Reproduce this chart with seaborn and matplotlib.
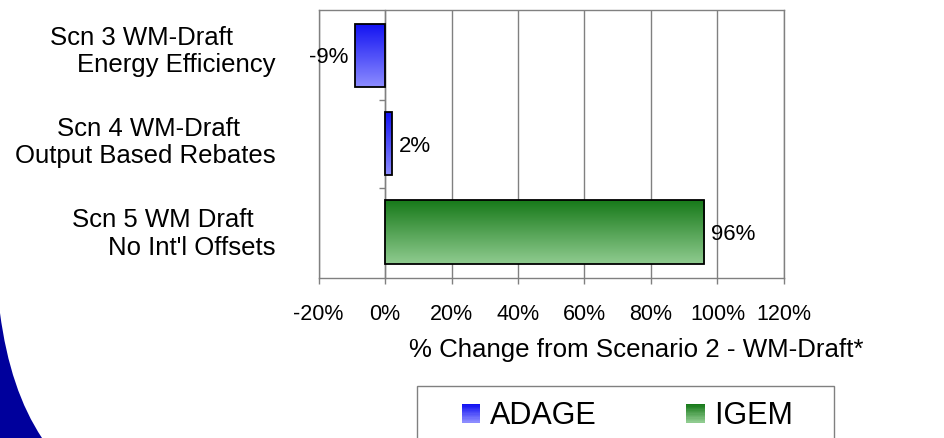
import numpy as np
import pandas as pd
import matplotlib
matplotlib.use('Agg')
import matplotlib.pyplot as plt
import matplotlib.transforms as mtransforms
import seaborn as sns
from matplotlib.patches import Patch, Rectangle, PathPatch
from matplotlib.path import Path
from matplotlib.legend_handler import HandlerBase
from matplotlib.colors import to_rgba

# data
scenarios = ['Scn 3 WM-Draft      \nEnergy Efficiency',
             'Scn 4 WM-Draft     \nOutput Based Rebates',
             'Scn 5 WM Draft   \nNo Int\'l Offsets']
pct_change = [-9, 2, 96]
model = ['ADAGE', 'ADAGE', 'IGEM']
model_order = ['ADAGE', 'IGEM']
x_ticks = [-20, 0, 20, 40, 60, 80, 100, 120]

# gradient colours (top, bottom) per model
grad_colors = {'ADAGE': ('#1212f2', '#8c8cff'),
               'IGEM': ('#187a1a', '#8fcb8f')}
grid_col = '#808080'

df = pd.DataFrame({'scenario': scenarios, 'change': pct_change, 'model': model})

sns.set_style('white')
plt.rcParams['font.family'] = ['Liberation Sans', 'DejaVu Sans']
plt.rcParams['text.color'] = 'black'
plt.rcParams['axes.labelcolor'] = 'black'
plt.rcParams['xtick.labelcolor'] = 'black'
plt.rcParams['ytick.labelcolor'] = 'black'

fig = plt.figure(figsize=(9.44, 4.38), dpi=100)
ax = fig.add_axes([0.3374, 0.3653, 0.4931, 0.613])

sns.barplot(data=df, x='change', y='scenario', hue='model', hue_order=model_order,
            palette={k: v[1] for k, v in grad_colors.items()}, dodge=False,
            width=0.715, saturation=1, edgecolor='black', linewidth=1.3,
            orient='h', legend=False, ax=ax)


def vertical_gradient(top, bottom, n=64):
    t = np.linspace(0, 1, n)[:, None]
    c0 = np.array(to_rgba(top))
    c1 = np.array(to_rgba(bottom))
    return (c0 * (1 - t) + c1 * t)[:, None, :]


# fill each bar with a top-to-bottom gradient, clipped to the bar
for cont, name in zip(ax.containers, model_order):
    top, bottom = grad_colors[name]
    for bar in cont:
        x0, y0 = bar.get_xy()
        w, h = bar.get_width(), bar.get_height()
        img = ax.imshow(vertical_gradient(top, bottom), extent=(x0, x0 + w, y0 + h, y0),
                        origin='upper', aspect='auto', interpolation='bilinear', zorder=1.5)
        img.set_clip_path(bar)
        bar.set_facecolor('none')
        bar.set_zorder(2)
    for t in ax.bar_label(cont, fmt='{:.0f}%', padding=5, fontsize=16):
        t.set_verticalalignment('center_baseline')

ax.set_xlim(x_ticks[0], x_ticks[-1])
ax.set_ylim(len(scenarios) - 0.48, -0.52)

ax.set_xticks(x_ticks, labels=[f'{t}%' for t in x_ticks])
ax.tick_params(axis='x', bottom=True, length=4.6, width=1, color=grid_col,
               pad=14, labelsize=15.5, direction='out')
ax.tick_params(axis='y', length=0, pad=31, labelsize=18.5)
# category labels sit a little above their bars in the original
for lbl, dy in zip(ax.get_yticklabels(), [6, 4, 1.5]):
    lbl.set_multialignment('right')
    lbl.set_linespacing(1.2)
    lbl.set_transform(lbl.get_transform() +
                      mtransforms.ScaledTranslation(0, dy / 72, fig.dpi_scale_trans))

ax.grid(axis='x', color=grid_col, lw=1)
ax.grid(axis='y', visible=False)
ax.set_axisbelow(True)
for sp in ax.spines.values():
    sp.set_visible(True)
    sp.set_color(grid_col)
    sp.set_linewidth(1)

ax.set_ylabel('')
ax.set_xlabel('% Change from Scenario 2 - WM-Draft*', fontsize=18.6)
ax.xaxis.set_label_coords(0.682, -0.222)

# category axis crosses at 0%: ticks between categories
xl = ax.get_xlim()
sec = ax.secondary_yaxis((0 - xl[0]) / (xl[1] - xl[0]))
sec.set_yticks([0.5, 1.5])
sec.set_yticklabels([])
sec.tick_params(length=4.6, width=1, color=grid_col, direction='out')
for sp in sec.spines.values():
    sp.set_color(grid_col)
    sp.set_linewidth(1)

# blue swoosh decoration bottom-left
W, H = 944, 438
swoosh = Path([(0, 1 - 313 / H), (10 / W, 1 - 390 / H), (42 / W, 0), (0, 0), (0, 1 - 313 / H)],
              [Path.MOVETO, Path.CURVE3, Path.CURVE3, Path.LINETO, Path.CLOSEPOLY])
fig.add_artist(PathPatch(swoosh, transform=fig.transFigure, facecolor='#00009c',
                         edgecolor='none'))


class GradientSquare(HandlerBase):
    def __init__(self, top, bottom, side=13.5, n=14):
        super().__init__()
        self.top, self.bottom, self.side, self.n = top, bottom, side, n

    def create_artists(self, legend, orig_handle, xdescent, ydescent,
                       width, height, fontsize, trans):
        s = self.side
        x0 = -xdescent + width - s
        y0 = -ydescent + (height - s) / 2
        c0 = np.array(to_rgba(self.top))
        c1 = np.array(to_rgba(self.bottom))
        arts = []
        for i in range(self.n):
            t = i / (self.n - 1)
            y = y0 + s - (i + 1) * s / self.n
            arts.append(Rectangle((x0, y), s, s / self.n * 1.1,
                                  facecolor=c0 * (1 - t) + c1 * t,
                                  edgecolor='none', transform=trans))
        return arts


proxies = [Patch(label='ADAGE'), Patch(label='IGEM   ')]
hmap = {p: GradientSquare(*grad_colors[m]) for p, m in zip(proxies, model_order)}
leg = fig.legend(handles=proxies, handler_map=hmap, ncol=2, loc='upper left',
                 bbox_to_anchor=(417 / W, 1 - 386 / H), bbox_transform=fig.transFigure,
                 borderaxespad=0, borderpad=0.5, fontsize=22, handlelength=1.57,
                 handletextpad=0.33, columnspacing=1.96, fancybox=False,
                 frameon=True, framealpha=1, edgecolor=grid_col)
leg.get_frame().set_linewidth(1)

fig.savefig('out.png', dpi=100, facecolor='white')
